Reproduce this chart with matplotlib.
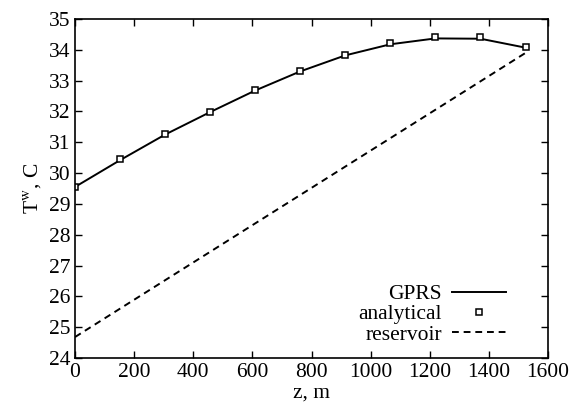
import matplotlib
matplotlib.use('Agg')
import matplotlib.pyplot as plt

# data
z = [0, 152.4, 304.8, 457.2, 609.6, 762.0, 914.4, 1066.8, 1219.2, 1371.6, 1524.0]
t_gprs = [29.55, 30.42, 31.25, 31.98, 32.68, 33.30, 33.82, 34.18, 34.37, 34.36, 34.07]
t_analytical = [29.55, 30.45, 31.27, 31.98, 32.69, 33.31, 33.83, 34.22, 34.42, 34.40, 34.09]
z_res = [0, 1524.0]
t_res = [24.68, 33.90]

plt.rcParams['font.family'] = ['Liberation Serif', 'DejaVu Serif']
plt.rcParams['mathtext.fontset'] = 'stix'

fig = plt.figure(figsize=(5.87, 4.12), dpi=100)
ax = fig.add_axes([75 / 587, 1 - 358 / 412, (548 - 75) / 587, (358 - 19) / 412])

ax.plot(z, t_gprs, '-', color='black', lw=1.4, label='GPRS')
ax.plot(z, t_analytical, 's', color='black', mfc='white', mew=1.1, ms=5,
        label='analytical')
ax.plot(z_res, t_res, '--', color='black', lw=1.4, dashes=(3.5, 2.5), label='reservoir')

ax.set_xlim(0, 1600)
ax.set_ylim(24, 35)
ax.set_xticks(range(0, 1601, 200))
ax.set_yticks(range(24, 36))
ax.tick_params(direction='in', top=True, right=True, labelsize=15.5, length=5, width=1)
for s in ax.spines.values():
    s.set_linewidth(1.2)

ax.set_xlabel('z, m', fontsize=15.5, labelpad=1)
ax.set_ylabel(r'T$^{\mathrm{w}}$, C', fontsize=15.5, labelpad=4)

leg = ax.legend(loc='lower right', bbox_to_anchor=(0.934, 0.008), frameon=False, markerfirst=False,
                fontsize=15.5, handlelength=2.5, labelspacing=0.0, borderpad=0, handletextpad=0.47)
leg.legend_handles[1].set_markersize(4.5)

fig.savefig('out.png', dpi=100)
